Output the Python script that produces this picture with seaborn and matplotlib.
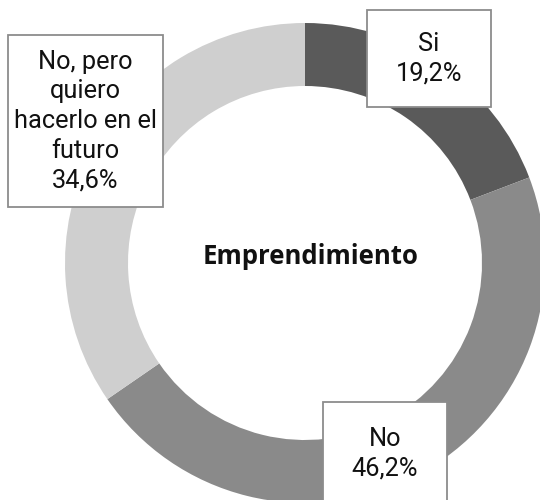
import matplotlib
matplotlib.use("Agg")
import matplotlib.pyplot as plt
from matplotlib.patches import Rectangle
import seaborn as sns

# Survey answers: does the respondent run their own business?
categories = ["Si", "No", "No, pero\nquiero\nhacerlo en el\nfuturo"]
shares = [19.2, 46.2, 34.6]
slice_colors = ["#5a5a5a", "#8a8a8a", "#cfcfcf"]
center_title = "Emprendimiento"

# Label box layout in pixel space (left, top, width, height), top-down
box_layout = [(367, 10, 124, 97), (323, 402, 124, 104), (8, 35, 155, 172)]

sns.set_theme(style="white")
plt.rcParams["font.family"] = ["Roboto", "DejaVu Sans"]

W, H = 540, 500
fig = plt.figure(figsize=(W / 100, H / 100), dpi=100)
ax = fig.add_axes([0, 0, 1, 1])

cx, cy, r_out, ring = 305, H - 263, 240, 63
ax.pie(shares, colors=slice_colors, startangle=90, counterclock=False,
       center=(cx, cy), radius=r_out,
       wedgeprops=dict(width=ring, edgecolor="none", linewidth=0))

ax.set_xlim(0, W)
ax.set_ylim(0, H)
ax.set_aspect("equal")
ax.axis("off")

for name, val, (bx, by, bw, bh) in zip(categories, shares, box_layout):
    ax.add_patch(Rectangle((bx, H - by - bh), bw, bh, facecolor="white",
                           edgecolor="#8c8c8c", linewidth=1.3, zorder=3))
    txt = f"{name}\n{val:.1f}%".replace(".", ",")
    ax.text(bx + bw / 2, H - by - bh / 2, txt, ha="center", va="center",
            fontsize=18.3, color="#111111", linespacing=1.29, zorder=4,
            family=["Roboto", "DejaVu Sans"])

ax.text(311, H - 257, center_title, ha="center", va="center",
        fontsize=18.5, fontweight="bold", color="#111111",
        family=["Open Sans", "DejaVu Sans"])

fig.savefig("out.png", dpi=100, facecolor="white")
